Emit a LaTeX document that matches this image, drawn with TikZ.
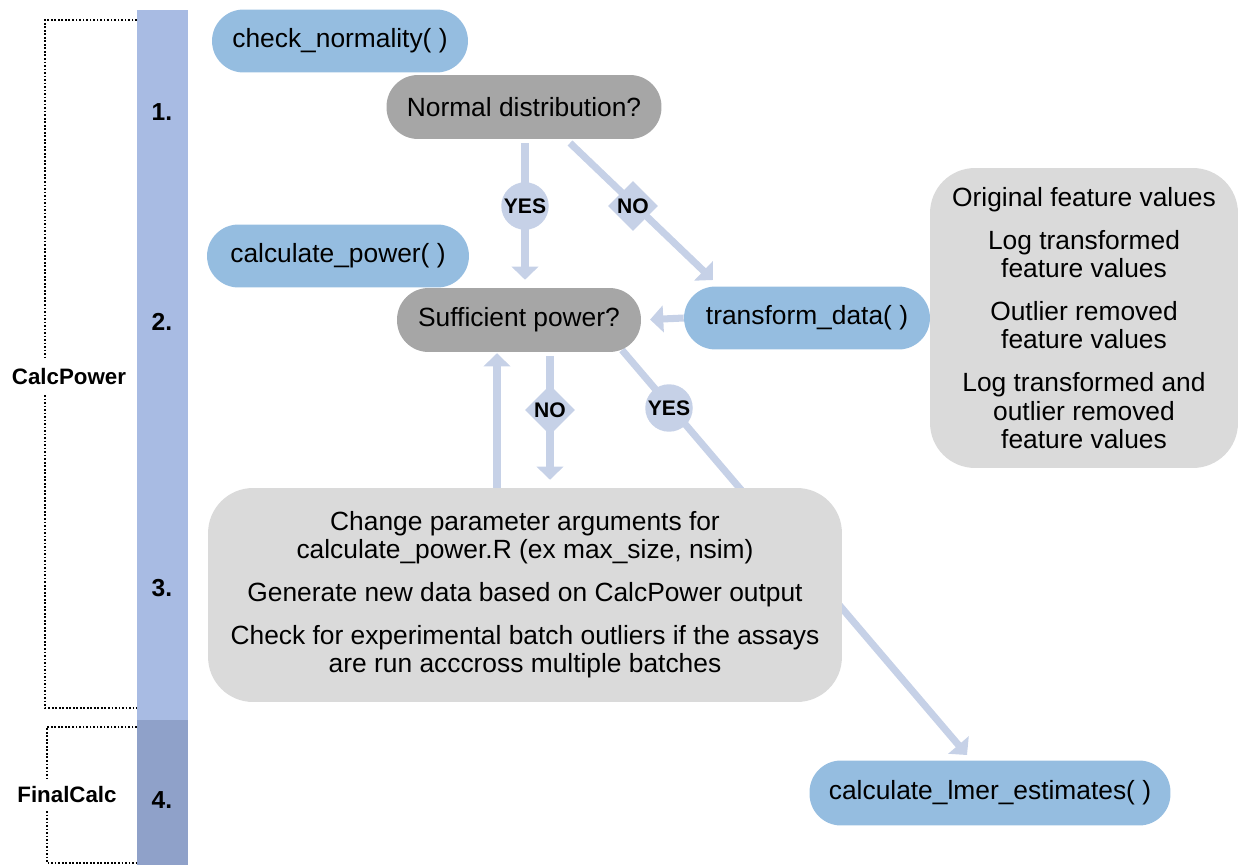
\documentclass[tikz,border=0pt]{standalone}
\usepackage{fontspec}
\setmainfont{Liberation Sans}
\usetikzlibrary{arrows.meta,shapes.geometric,backgrounds}

\definecolor{funcblue}{RGB}{149,189,224}
\definecolor{askgray}{RGB}{166,166,166}
\definecolor{notegray}{RGB}{218,218,218}
\definecolor{flowblue}{RGB}{198,209,231}
\definecolor{barlight}{RGB}{168,187,227}
\definecolor{bardark}{RGB}{143,161,201}

\begin{document}
\begin{tikzpicture}[
  x=0.02cm, y=-0.02cm,
  every node/.style={font=\fontsize{15}{16}\selectfont},
  fcall/.style={fill=funcblue, rounded corners=0.63cm, minimum height=1.26cm, inner sep=0pt},
  ask/.style={fill=askgray, rounded corners=0.63cm, minimum height=1.28cm, inner sep=0pt},
  note/.style={fill=notegray, rounded corners=0.9cm, align=center, inner sep=0pt},
  yesmark/.style={circle, fill=flowblue, minimum size=0.95cm, inner sep=0pt, font=\bfseries\fontsize{12}{12}\selectfont},
  nomark/.style={diamond, fill=flowblue, minimum size=1cm, inner sep=0pt, font=\bfseries\fontsize{12}{12}\selectfont},
  flow/.style={draw=flowblue, line width=4pt, -{Triangle[width=15pt,length=7.5pt]}},
  steplabel/.style={font=\bfseries\fontsize{14}{14}\selectfont},
  phaselabel/.style={font=\bfseries\fontsize{12.7}{13}\selectfont},
  bracket/.style={densely dotted, line width=1pt},
]
\useasboundingbox (0,0) rectangle (1238,865);

% phase bar
\fill [barlight] (137,10) rectangle (188,720);
\fill [bardark] (137,720) rectangle (188,865);
\node [steplabel] (s1) at (162,112) {1.};
\node [steplabel] (s2) at (162,322) {2.};
\node [steplabel] (s3) at (162,588) {3.};
\node [steplabel] (s4) at (162,800) {4.};

\node [phaselabel] (calcpower) at (69,377) {CalcPower};
\node [phaselabel] (finalcalc) at (67,795) {FinalCalc};
\draw [bracket] (137,20) -- (45,20) -- (45,358);
\draw [bracket] (45,395) -- (45,708) -- (137,708);
\draw [bracket] (137,727) -- (47,727) -- (47,778);
\draw [bracket] (47,811) -- (47,863) -- (137,863);

\node [fcall, minimum width=5.12cm] (check) at (340,41) {check\_normality( )};
\node [ask, minimum width=5.5cm] (normdist) at (524,107) {Normal distribution?};
\node [fcall, minimum width=5.24cm] (calcpow) at (338,256) {calculate\_power( )};
\node [ask, minimum width=4.88cm] (suffpow) at (519,320) {Sufficient power?};
\node [fcall, minimum width=4.92cm] (transform) at (807,318) {transform\_data( )};
\node [fcall, minimum width=7.22cm, minimum height=1.3cm] (lmer) at (990,793) {calculate\_lmer\_estimates( )};

\node [note, minimum width=6.16cm, minimum height=6cm] (features) at (1084,318)
  {Original feature values\\[8.5pt]
   Log transformed\\feature values\\[8.5pt]
   Outlier removed\\feature values\\[8.5pt]
   Log transformed and\\outlier removed\\feature values};

\node [note, minimum width=12.68cm, minimum height=4.28cm] (change) at (525,595)
  {Change parameter arguments for\\calculate\_power.R (ex max\_size, nsim)\\[8.5pt]
   Generate new data based on CalcPower output\\[8.5pt]
   Check for experimental batch outliers if the assays\\are run acccross multiple batches};

\node [yesmark] (yes1) at (525,206) {YES};
\node [nomark] (no1) at (633,206) {NO};
\node [nomark] (no2) at (550,410) {NO};
\node [yesmark] (yes2) at (669,408) {YES};

\coordinate (no1a) at (570,143);
\coordinate (no1b) at (713,280);
\coordinate (yes2a) at (622,350);
\coordinate (yes2b) at (967,755);
\coordinate (upfoot) at (497,488);

\begin{scope}[on background layer]
\draw [flow, shorten <=2.3pt, shorten >=4.5pt] (normdist.south -| yes1) -- (yes1 |- suffpow.north);
\draw [flow] (no1a) -- (no1b);
\draw [flow, shorten >=5pt] (transform.west) -- (suffpow.east);
\draw [flow, shorten <=2pt, shorten >=4.5pt] (suffpow.south -| no2) -- (no2 |- change.north);
\draw [flow, shorten >=0.5pt] (upfoot) -- (upfoot |- suffpow.south);
\draw [flow] (yes2a) -- (yes2b);
\end{scope}

\end{tikzpicture}
\end{document}
